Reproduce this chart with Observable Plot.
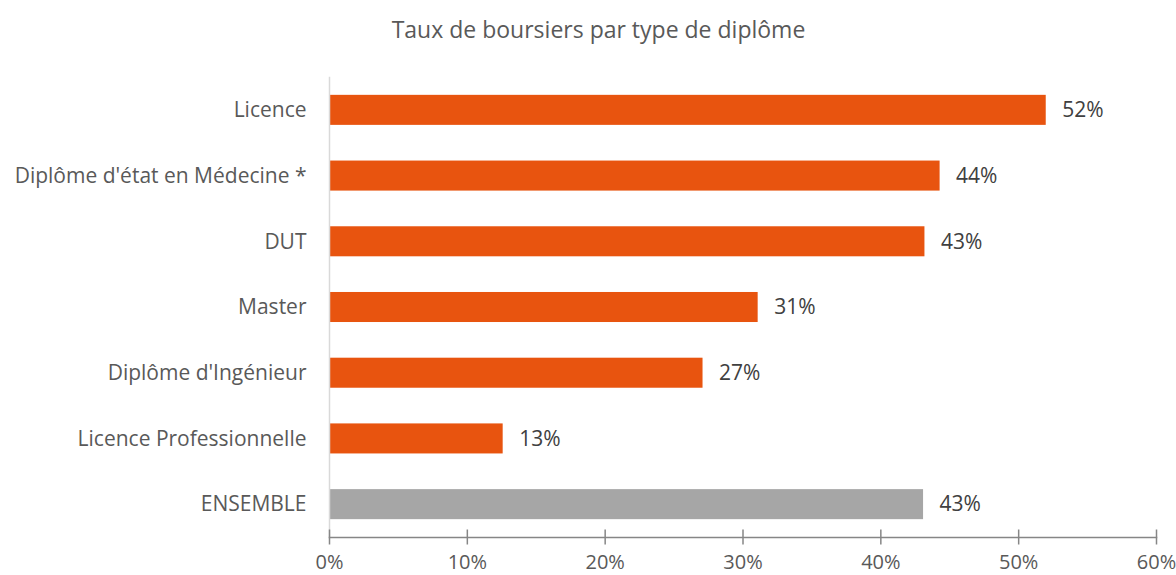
<!DOCTYPE html>
<html>
<head>
<meta charset="utf-8">
<script src="https://cdn.jsdelivr.net/npm/d3@7"></script>
<script src="https://cdn.jsdelivr.net/npm/@observablehq/plot@0.6"></script>
<style>
  html, body { margin: 0; padding: 0; background: #fff; }
  #title { height: 55px; width: 1176px; text-align: center; font-family: "Open Sans", sans-serif; font-size: 23px; color: #595959; line-height: 23px; padding-top: 18px; padding-left: 21px; box-sizing: border-box; }
  #chart svg { display: block; }
</style>
</head>
<body>
<div id="title">Taux de boursiers par type de diplôme</div>
<div id="chart"></div>
<script>
const categories = ["Licence", "Diplôme d'état en Médecine *", "DUT", "Master", "Diplôme d'Ingénieur", "Licence Professionnelle", "ENSEMBLE"];
const values = [0.52, 0.443, 0.432, 0.311, 0.271, 0.126, 0.431];
const labels = ["52%", "44%", "43%", "31%", "27%", "13%", "43%"];
const xTicks = [0, 0.1, 0.2, 0.3, 0.4, 0.5, 0.6];

const data = categories.map((c, i) => ({category: c, value: values[i], label: labels[i], total: c === "ENSEMBLE"}));

const chart = Plot.plot({
  width: 1176,
  height: 520,
  marginTop: 22,
  marginBottom: 38,
  marginLeft: 329,
  marginRight: 20,
  style: {fontFamily: "Open Sans, sans-serif", fontSize: "21px", color: "#595959", background: "#fff", overflow: "visible"},
  x: {domain: [0, 0.6], axis: null, label: null},
  y: {domain: categories, paddingInner: 0.543, paddingOuter: 0.2715, round: false, axis: null, label: null},
  marks: [
    Plot.barX(data, {y: "category", x: "value", fill: d => d.total ? "#A6A6A6" : "#E8540F"}),
    Plot.text(data, {y: "category", x: "value", text: "label", textAnchor: "start", dx: 16, fill: "#404040", fontSize: 21}),
    Plot.frame({anchor: "left", stroke: "#d9d9d9", strokeWidth: 1.5}),
    Plot.frame({anchor: "bottom", stroke: "#868686", strokeWidth: 1.5}),
    Plot.axisX({ticks: xTicks, tickSize: 15, dy: -7.5, tickFormat: () => "", stroke: "#868686", strokeWidth: 1.5, label: null}),
    Plot.axisX({ticks: xTicks, tickSize: 0, tickPadding: 17, tickFormat: d3.format(".0%"), fill: "#595959", fontSize: 20, label: null}),
    Plot.axisY({tickSize: 0, tickPadding: 23, fill: "#595959", fontSize: 21, label: null})
  ]
});
document.getElementById("chart").appendChild(chart);
</script>
</body>
</html>
